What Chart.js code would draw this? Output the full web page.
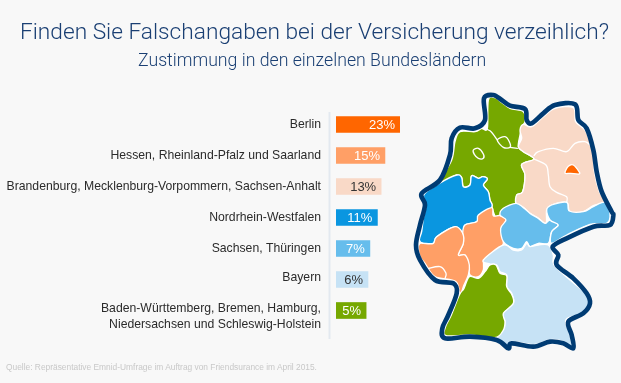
<!DOCTYPE html>
<html lang="de"><head><meta charset="utf-8">
<style>
html,body{margin:0;padding:0;background:#f8f8f8;width:621px;height:383px;overflow:hidden}
#wrap{position:relative;width:621px;height:383px}
#c{position:absolute;left:0;top:0}
.t{position:absolute;white-space:nowrap;text-align:center;left:0;font-family:"Liberation Sans",Arial,sans-serif}
#title{top:18px;left:20px;font:300 22.7px Roboto,sans-serif;color:#1a3f73}
#sub{top:50px;left:138px;font:300 17.7px Roboto,sans-serif;color:#1a3f73}
#src{top:362px;left:6px;font:8.4px "Liberation Sans",sans-serif;color:#c8c8c8}
#map{position:absolute;left:410px;top:85px}
</style></head><body>
<div id="wrap">
<canvas id="c" width="621" height="383"></canvas>
<div class="t" id="title">Finden Sie Falschangaben bei der Versicherung verzeihlich?</div>
<div class="t" id="sub">Zustimmung in den einzelnen Bundesländern</div>
<div class="t" id="src">Quelle: Repräsentative Emnid-Umfrage im Auftrag von Friendsurance im April 2015.</div>
<svg id="map" width="211" height="270" viewBox="0 0 633 810"></svg>
</div>
<script src="https://cdn.jsdelivr.net/npm/chart.js@4/dist/chart.umd.min.js"></script>
<script>
const categories = [
  "Berlin",
  "Hessen, Rheinland-Pfalz und Saarland",
  "Brandenburg, Mecklenburg-Vorpommern, Sachsen-Anhalt",
  "Nordrhein-Westfalen",
  "Sachsen, Thüringen",
  "Bayern",
  ["Baden-Württemberg, Bremen, Hamburg,", "Niedersachsen und Schleswig-Holstein"]
];
const values = [23, 15, 13, 11, 7, 6, 5];
const barColors = ["#ff6600", "#ff9f66", "#f9d9c7", "#0a96e0", "#66bdec", "#c6e2f5", "#76a800"];
const labelColors = ["#ffffff", "#ffffff", "#333333", "#ffffff", "#ffffff", "#333333", "#ffffff"];
const axisMin = -11, axisMax = 23;

const valueLabels = {
  id: "valueLabels",
  afterDatasetsDraw(chart) {
    const ctx = chart.ctx, meta = chart.getDatasetMeta(0);
    ctx.save();
    ctx.font = '13px "Liberation Sans", sans-serif';
    ctx.textAlign = "right";
    ctx.textBaseline = "middle";
    meta.data.forEach((bar, i) => {
      ctx.fillStyle = labelColors[i];
      ctx.fillText(values[i] + "%", bar.x - 5, bar.y + 0.5);
    });
    ctx.restore();
  }
};
const axisRule = {
  id: "axisRule",
  beforeDraw(chart) {
    const y = chart.scales.y, ctx = chart.ctx;
    const items = y.getLabelItems();
    if (!items._moved) {
      items._moved = true;
      items.forEach((it, i) => { it.options.translation[1] += i === items.length - 1 ? 6 : (i === items.length - 2 ? -2 : 0); });
    }
    ctx.save();
    ctx.fillStyle = "#e3e9f0";
    ctx.fillRect(y.right - 7.5, y.top + 3, 2, y.bottom - y.top + 10);
    ctx.restore();
  }
};

new Chart(document.getElementById("c"), {
  type: "bar",
  data: { labels: categories, datasets: [{ data: values, backgroundColor: barColors, barThickness: 16, base: axisMin, borderWidth: 0 }] },
  plugins: [axisRule, valueLabels],
  options: {
    indexAxis: "y", responsive: false, animation: false,
    layout: { padding: { top: 109, bottom: 57, left: 0, right: 221 } },
    plugins: { legend: { display: false }, tooltip: { enabled: false }, title: { display: false } },
    scales: {
      x: { display: false, min: axisMin, max: axisMax },
      y: {
        grid: { display: false, drawTicks: false }, border: { display: false },
        afterFit(s) { s.width = 336; },
        ticks: { padding: 15, autoSkip: false, color: "#2b2b2b", font: { family: '"Liberation Sans", sans-serif', size: 12.23, lineHeight: 1.26 } }
      }
    }
  }
});

/* Decorative map of Germany, in a 3x grid over the right-hand panel */
const outline = [[222,40],[250,30],[275,45],[300,62],[345,72],[350,105],[365,115],[400,85],[435,60],[495,58],[505,105],[530,130],[550,195],[560,260],[575,320],[605,380],[610,390],[600,420],[550,425],[470,460],[428,485],[445,510],[440,540],[490,580],[530,625],[540,655],[520,685],[475,710],[485,750],[490,790],[460,775],[420,770],[370,785],[305,775],[295,790],[260,765],[180,755],[105,760],[97,730],[115,690],[140,625],[130,595],[75,585],[30,525],[18,480],[30,420],[45,360],[35,325],[90,285],[120,210],[125,160],[150,128],[195,130],[225,105]];
const regions = [
 ["#76a800",[[235,45],[255,38],[275,52],[300,70],[340,80],[345,110],[335,125],[330,150],[325,185],[340,200],[372,222],[335,238],[345,270],[338,320],[320,330],[318,355],[280,375],[270,390],[255,393],[240,345],[235,320],[220,300],[232,282],[218,275],[205,280],[185,272],[180,300],[160,305],[155,278],[140,270],[88,295],[125,225],[135,170],[150,140],[195,140],[215,130],[232,130]]],
 ["#f9d9c7",[[340,118],[365,125],[400,95],[435,70],[490,68],[497,110],[525,135],[540,170],[550,200],[553,260],[568,320],[585,350],[550,362],[520,380],[480,382],[470,352],[425,360],[410,375],[408,415],[385,400],[360,385],[340,367],[318,355],[320,330],[338,320],[345,270],[335,238],[372,222],[340,200],[325,185],[335,160],[330,135]]],
 ["#0a96e0",[[88,295],[140,270],[155,278],[160,305],[180,300],[185,272],[205,280],[218,275],[232,282],[220,300],[235,320],[240,345],[245,368],[200,410],[165,420],[158,445],[135,425],[80,455],[70,475],[40,475],[28,465],[35,440],[40,400],[48,360],[42,328]]],
 ["#ff9f66",[[205,390],[245,368],[250,392],[270,392],[288,405],[275,430],[280,460],[275,485],[225,520],[220,555],[205,575],[180,570],[175,540],[165,510],[145,510],[160,475],[158,445],[165,420],[200,410]]],
 ["#ff9f66",[[30,475],[40,475],[70,475],[80,455],[135,425],[158,445],[160,475],[145,510],[165,510],[178,540],[175,570],[160,605],[150,635],[138,590],[75,575],[45,535],[30,515],[25,485]]],
 ["#66bdec",[[270,390],[280,370],[318,355],[340,368],[360,385],[385,400],[405,415],[420,405],[445,420],[425,440],[415,475],[385,475],[360,485],[350,470],[335,490],[310,490],[280,470],[272,430],[288,405]]],
 ["#66bdec",[[410,375],[425,360],[470,352],[478,378],[520,380],[550,365],[585,352],[600,385],[590,415],[540,418],[470,450],[425,475],[425,440],[445,420],[420,405]]],
 ["#c6e2f5",[[280,480],[310,495],[335,495],[350,475],[360,485],[385,480],[415,480],[430,510],[432,540],[480,585],[530,628],[536,655],[518,684],[468,704],[478,745],[485,783],[460,769],[420,764],[370,779],[305,769],[294,782],[262,760],[280,735],[285,710],[278,685],[310,655],[305,625],[290,605],[290,570],[270,560],[260,540],[240,537],[220,525]]],
 ["#76a800",[[240,540],[258,540],[270,565],[290,572],[290,605],[305,628],[310,655],[280,685],[285,710],[280,735],[255,758],[180,750],[108,752],[106,727],[124,690],[148,630],[162,610],[178,575],[205,580],[225,560]]],
 ["#76a800",[[262,165],[285,155],[298,170],[300,187],[280,187]]],
 ["#ff6600",[[465,264],[475,244],[490,240],[507,260],[507,267],[482,265]]],
 ["#76a800",[[190,195],[205,190],[220,207],[220,220],[205,220],[193,208]]]
];
const lines = [
 [[215,130],[240,137],[262,165]],
 [[300,187],[322,190]],
 [[372,212],[385,200],[430,190],[470,200],[495,175],[525,170],[540,180]],
 [[372,222],[408,240],[415,270],[420,305],[440,322],[470,335],[470,352]],
 [[55,550],[90,545],[108,565],[105,580]]
];
function smooth(p, closed) {
  const n = p.length, at = i => closed ? p[(i + n) % n] : p[Math.max(0, Math.min(n - 1, i))];
  let d = "M" + p[0][0] + " " + p[0][1];
  const segs = closed ? n : n - 1;
  for (let i = 0; i < segs; i++) {
    const a = at(i - 1), b = at(i), c = at(i + 1), e = at(i + 2), k = 1 / 6;
    d += "C" + (b[0] + (c[0] - a[0]) * k).toFixed(1) + " " + (b[1] + (c[1] - a[1]) * k).toFixed(1) + " " +
         (c[0] - (e[0] - b[0]) * k).toFixed(1) + " " + (c[1] - (e[1] - b[1]) * k).toFixed(1) + " " + c[0] + " " + c[1];
  }
  return d + (closed ? "Z" : "");
}
const border = smooth(outline, true);
let svg = '<path d="' + border + '" fill="#fff"/>';
regions.forEach(r => { svg += '<path d="' + smooth(r[1], true) + '" fill="' + r[0] + '" stroke="#fff" stroke-width="4" stroke-linejoin="round"/>'; });
lines.forEach(l => { svg += '<path d="' + smooth(l, false) + '" fill="none" stroke="#fff" stroke-width="4" stroke-linecap="round"/>'; });
svg += '<path d="' + border + '" fill="none" stroke="#003b73" stroke-width="14" stroke-linejoin="round"/>';
document.getElementById("map").innerHTML = svg;
</script>
</body></html>
